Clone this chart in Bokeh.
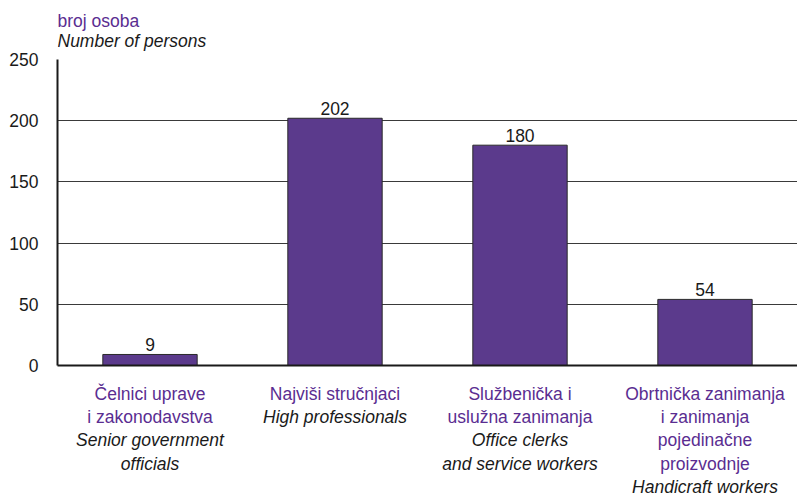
from bokeh.plotting import figure
from bokeh.models import ColumnDataSource, Range1d, FixedTicker, FactorRange
from bokeh.layouts import column
from bokeh.embed import file_html
from bokeh.resources import INLINE
from bokeh.core.properties import value

# ---- data ----
categories = ["c1", "c2", "c3", "c4"]
counts = [9, 202, 180, 54]
labels_hr = [
    ["Čelnici uprave", "i zakonodavstva"],
    ["Najviši stručnjaci"],
    ["Službenička i", "uslužna zanimanja"],
    ["Obrtnička zanimanja", "i zanimanja", "pojedinačne", "proizvodnje"],
]
labels_en = [
    ["Senior government", "officials"],
    ["High professionals"],
    ["Office clerks", "and service workers"],
    ["Handicraft workers"],
]
y_ticks = [0, 50, 100, 150, 200, 250]
title_hr = "broj osoba"
title_en = "Number of persons"

FONT = "Liberation Sans"
PURPLE_TXT = "#5A2D91"
BLACK_TXT = "#1a1a1a"
BAR = "#5B3A8C"
FS = "17.5px"
W = 797
LEFT = 57
HEAD_H = 51
MAIN_TOP = 8
FRAME_H = 306
MAIN_BOTTOM = 10
FOOT_H = 121
LINE = 23.2
SHIFT = -4.5  # baseline correction for svg text

xr = FactorRange(factors=categories)


def bare(height, x_range, y_range):
    f = figure(width=W, height=height, x_range=x_range, y_range=y_range,
               output_backend="svg", toolbar_location=None,
               x_axis_location=None, y_axis_location=None, min_border=0)
    f.min_border_left = LEFT
    f.outline_line_color = None
    f.xgrid.visible = False
    f.ygrid.visible = False
    f.title = None
    return f


# header
head = bare(HEAD_H, Range1d(0, W - LEFT), Range1d(0, HEAD_H))
hsrc = ColumnDataSource(dict(x=[0, 0], y=[HEAD_H - 25, HEAD_H - 45],
                             text=[title_hr, title_en], color=[PURPLE_TXT, BLACK_TXT],
                             style=["normal", "italic"]))
head.text(x="x", y="y", text="text", source=hsrc, text_align="left",
          text_baseline="alphabetic", y_offset=SHIFT, text_color="color",
          text_font_style="style", text_font=value(FONT), text_font_size=FS)

# main chart
p = figure(x_range=xr, y_range=Range1d(0, 250), width=W,
           height=MAIN_TOP + FRAME_H + MAIN_BOTTOM,
           output_backend="svg", toolbar_location=None,
           min_border_left=LEFT, min_border_right=0,
           min_border_top=MAIN_TOP, min_border_bottom=MAIN_BOTTOM)
p.title = None
p.outline_line_color = None

src = ColumnDataSource(dict(x=categories, top=counts, lbl=[str(c) for c in counts]))
p.vbar(x="x", top="top", width=0.51, source=src, fill_color=BAR,
       line_color="#2a2a2a", line_width=1)
p.text(x="x", y="top", text="lbl", source=src, text_align="center",
       text_baseline="alphabetic", y_offset=SHIFT - 5, text_font=value(FONT),
       text_font_size=FS, text_color=BLACK_TXT)

p.yaxis.ticker = FixedTicker(ticks=y_ticks)
p.yaxis.major_tick_out = 0
p.yaxis.major_tick_in = 0
p.yaxis.minor_tick_out = 0
p.yaxis.minor_tick_in = 0
p.yaxis.major_label_standoff = 19
p.yaxis.major_label_text_font = FONT
p.yaxis.major_label_text_font_size = FS
p.yaxis.major_label_text_color = BLACK_TXT
p.yaxis.axis_line_color = "#1a1a1a"
p.yaxis.axis_line_width = 2

p.xaxis.major_tick_out = 0
p.xaxis.major_tick_in = 0
p.xaxis.major_label_standoff = 0
p.xaxis.major_label_text_font_size = "0px"
p.xaxis.major_label_text_color = None
p.xaxis.axis_line_color = "#1a1a1a"
p.xaxis.axis_line_width = 2

p.xgrid.grid_line_color = None
p.ygrid.grid_line_color = "#3a3a3a"
p.ygrid.grid_line_width = 1

# category labels
foot = bare(FOOT_H, xr, Range1d(0, FOOT_H))
xs, ys, texts, cols, styles = [], [], [], [], []
for cat, hr, en in zip(categories, labels_hr, labels_en):
    lines = [(t, PURPLE_TXT, "normal") for t in hr] + [(t, BLACK_TXT, "italic") for t in en]
    for i, (t, c, s) in enumerate(lines):
        xs.append(cat)
        ys.append(FOOT_H - 23 - LINE * i)
        texts.append(t)
        cols.append(c)
        styles.append(s)
fsrc = ColumnDataSource(dict(x=xs, y=ys, text=texts, color=cols, style=styles))
foot.text(x="x", y="y", text="text", source=fsrc, text_align="center",
          text_baseline="alphabetic", y_offset=SHIFT, text_color="color",
          text_font_style="style", text_font=value(FONT), text_font_size=FS)

layout = column(head, p, foot, spacing=0)
open("out.html", "w").write(file_html(layout, INLINE))
